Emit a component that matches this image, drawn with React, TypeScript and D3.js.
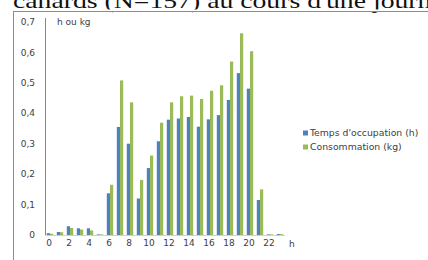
import React from 'react';
import * as d3 from 'd3';

const hours = d3.range(24).map(String);
const occupation = [0.006, 0.01, 0.029, 0.022, 0.022, 0.002, 0.137, 0.355, 0.3, 0.12, 0.22, 0.308, 0.379, 0.383, 0.388, 0.356, 0.38, 0.394, 0.444, 0.532, 0.481, 0.115, 0.002, 0.003];
const consommation = [0.004, 0.009, 0.023, 0.018, 0.015, 0.002, 0.165, 0.508, 0.436, 0.181, 0.261, 0.369, 0.436, 0.456, 0.458, 0.447, 0.474, 0.492, 0.57, 0.663, 0.604, 0.15, 0.002, 0.003];
const yTicks = [0, 0.1, 0.2, 0.3, 0.4, 0.5, 0.6, 0.7];
const seriesNames = ["Temps d'occupation (h)", 'Consommation (kg)'];
const colors = ['#4F81BD', '#9BBB59'];

const W = 428;
const H = 260;
const font = 'DejaVu Sans, Verdana, sans-serif';

const App: React.FC = () => {
  const x = d3.scaleBand().domain(hours).range([45, 285]).paddingInner(0).paddingOuter(0);
  const y = d3.scaleLinear().domain([0, 0.7]).range([235, 22]);
  const inner = d3.scaleBand().domain(['0', '1']).range([x.bandwidth() / 2 - 3.2, x.bandwidth() / 2 + 3.2]);
  const series = [occupation, consommation];

  return (
    <div style={{ position: 'fixed', left: 0, top: 0 }}>
      <svg width={W} height={H} style={{ display: 'block', background: '#fff' }}>
        {/* cut-off caption above the chart (page text, stretched like the scan) */}
        <g transform="translate(13,8) scale(1.26,1)">
          <text x={0} y={0} fontFamily="Liberation Serif, Times New Roman, serif" fontSize={22} fill="#111">
            canards (N=157) au cours d'une journée
          </text>
        </g>
        <rect x={0} y={9.5} width={W} height={2} fill="#fff" />
        {/* chart frame */}
        <line x1={13} x2={W} y1={11.5} y2={11.5} stroke="#8c8c8c" />
        <line x1={13.5} x2={13.5} y1={11} y2={H} stroke="#8c8c8c" />

        {/* y axis */}
        <line x1={45.5} x2={45.5} y1={y(0.7) - 4} y2={y(0)} stroke="#868686" />
        {yTicks.map(t => (
          <text key={t} x={35} y={y(t)} dy="0.35em" textAnchor="end" fontFamily={font} fontSize={9} fill="#404040">
            {t === 0 ? '0' : d3.format('.1f')(t).replace('.', ',')}
          </text>
        ))}
        <text x={57} y={y(0.7)} dy="0.35em" fontFamily={font} fontSize={9} fill="#404040">h ou kg</text>

        {/* x axis */}
        <line x1={45} x2={285} y1={y(0) + 0.5} y2={y(0) + 0.5} stroke="#d0d0d0" />
        {hours.filter((_, i) => i % 2 === 0).map(h => (
          <text key={h} x={(x(h) ?? 0) + x.bandwidth() / 2 - 1} y={246} textAnchor="middle" fontFamily={font} fontSize={9} fill="#404040">
            {h}
          </text>
        ))}
        <text x={289} y={247} fontFamily={font} fontSize={9} fill="#404040">h</text>

        {/* bars */}
        {series.map((vals, si) => (
          <g key={si} fill={colors[si]}>
            {vals.map((v, i) => (
              <rect
                key={i}
                x={(x(hours[i]) ?? 0) + (inner(String(si)) ?? 0)}
                y={y(v)}
                width={inner.bandwidth()}
                height={y(0) - y(v)}
              />
            ))}
          </g>
        ))}

        {/* legend */}
        {seriesNames.map((name, i) => (
          <g key={name} transform={`translate(303,${133 + i * 14})`}>
            <rect x={0} y={-2.5} width={5} height={5} fill={colors[i]} />
            <text x={7} y={0} dy="0.35em" fontFamily={font} fontSize={9.3} fill="#404040">{name}</text>
          </g>
        ))}
      </svg>
    </div>
  );
};

export default App;
